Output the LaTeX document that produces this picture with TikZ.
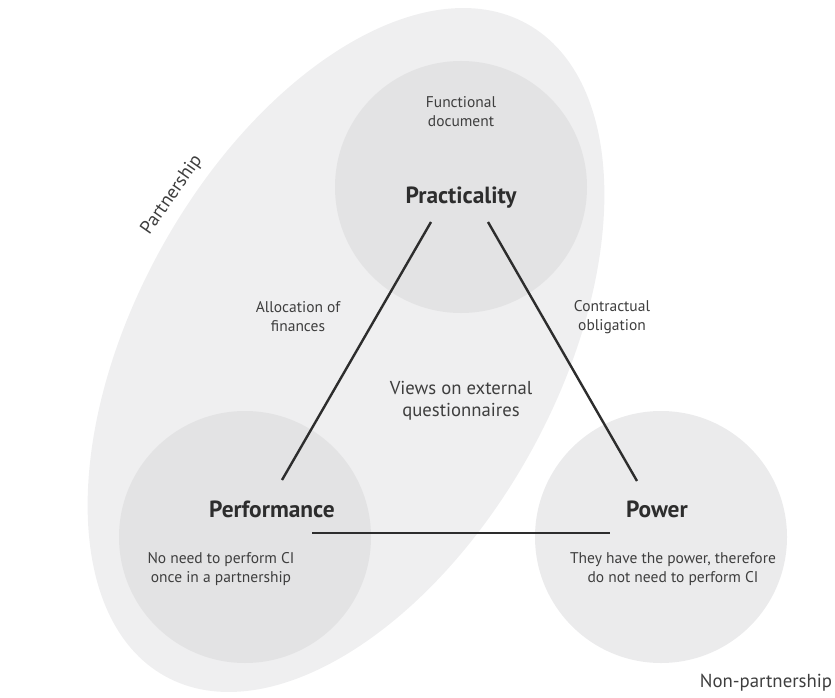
\documentclass[tikz,border=0pt]{standalone}
\usepackage{fontspec}
\setmainfont{PT Sans}
\usepackage{xcolor}
\definecolor{ZONECOLOR}{RGB}{239,239,240}
\definecolor{INNERCOLOR}{RGB}{227,227,228}
\definecolor{OUTERCOLOR}{RGB}{235,235,236}
\definecolor{TEXTCOLOR}{RGB}{62,62,62}
\definecolor{LINECOLOR}{RGB}{45,45,45}
\usepackage{tikz}
\usetikzlibrary{positioning,calc}
\tikzset{
  circle-style/.style = {
    circle, fill=#1,
    minimum size=252pt,
    inner sep=0pt
  },
  title-style/.style = {
    font=\bfseries\fontsize{23.4}{28}\selectfont,
    text=LINECOLOR
  },
  note-style/.style = {
    align=center, inner sep=0pt,
    font=\fontsize{15.5}{19}\selectfont,
    text=TEXTCOLOR
  },
  zone-style/.style = {
    inner sep=0pt,
    font=\fontsize{18.8}{22}\selectfont,
    text=TEXTCOLOR
  },
  link-style/.style = {
    draw=LINECOLOR, line width=2.4pt
  }
}

\begin{document}
\begin{tikzpicture}[x=1pt,y=-1pt]
    \useasboundingbox (0,0) rectangle (835,698);

    %%% partnership zone
    \fill[ZONECOLOR, rotate around={61:(346,350)}] (346,350) ellipse [x radius=373pt, y radius=211pt];
    \node[zone-style, rotate=55] (partLabel) at (172,195) {Partnership};
    \node[zone-style] (nonpartLabel) at (766,683) {Non-partnership};

    %%% circles
    \node[circle-style=INNERCOLOR] (prac) at (461,187) {};
    \node[circle-style=INNERCOLOR] (perf) at (245,537) {};
    \node[circle-style=OUTERCOLOR] (pow) at (661,537) {};

    %%% texts in circles
    \node[title-style] (pracTitle) at ($(prac)+(0,11)$) {Practicality};
    \node[note-style] (pracNote) at ($(prac)+(0,-75)$) {Functional\\document};
    \node[title-style] (perfTitle) at ($(perf)+(27,-28)$) {Performance};
    \node[note-style] (perfNote) at ($(perf)+(-24,32)$) {No need to perform CI\\once in a partnership};
    \node[title-style] (powTitle) at ($(pow)+(-4,-28)$) {Power};
    \node[note-style] (powNote) at ($(pow)+(12,32)$) {They have the power, therefore\\do not need to perform CI};

    %%% link labels
    \node[note-style] (allocLabel) at (298,317) {Allocation of\\finances};
    \node[note-style] (contractLabel) at (612,317) {Contractual\\obligation};
    \node[note-style, font=\fontsize{18.7}{22}\selectfont] (viewsLabel) at (461,401) {Views on external\\questionnaires};

    %%% links
    \coordinate (pracL) at ($(prac)+(-30,35)$);
    \coordinate (pracR) at ($(prac)+(27,35)$);
    \coordinate (perfT) at ($(perf)+(37,-57)$);
    \coordinate (perfR) at ($(perf)+(67,-4)$);
    \coordinate (powT) at ($(pow)+(-24,-56)$);
    \coordinate (powL) at ($(pow)+(-51,-4)$);
    \path[link-style] (pracL) -- (perfT);
    \path[link-style] (pracR) -- (powT);
    \path[link-style] (perfR) -- (powL);
  \end{tikzpicture}
\end{document}
